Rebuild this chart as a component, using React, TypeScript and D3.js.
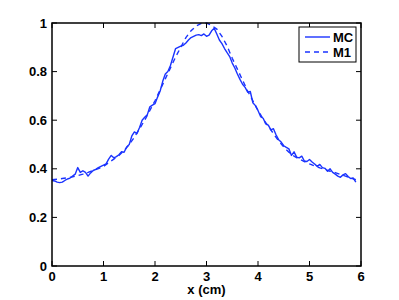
import * as d3 from 'd3';
import React from 'react';

// MC (Monte Carlo) profile, sampled every 0.05 cm
const mcX = d3.range(0, 5.901, 0.05).map((v) => +v.toFixed(2));
const mcY = [
  0.352, 0.35, 0.345, 0.343, 0.345, 0.352, 0.358, 0.362, 0.37, 0.378,
  0.405, 0.385, 0.392, 0.385, 0.37, 0.383, 0.393, 0.398, 0.405, 0.41,
  0.415, 0.42, 0.44, 0.455, 0.445, 0.45, 0.458, 0.47, 0.468, 0.49,
  0.5, 0.535, 0.552, 0.545, 0.57, 0.6, 0.612, 0.622, 0.655, 0.662,
  0.668, 0.695, 0.72, 0.76, 0.79, 0.8, 0.825, 0.86, 0.895, 0.9,
  0.905, 0.908, 0.918, 0.93, 0.94, 0.945, 0.95, 0.952, 0.948, 0.955,
  0.945, 0.95, 0.968, 0.978, 0.955, 0.93, 0.915, 0.895, 0.878, 0.862,
  0.835, 0.815, 0.79, 0.768, 0.748, 0.735, 0.715, 0.718, 0.672, 0.66,
  0.64, 0.615, 0.608, 0.585, 0.58, 0.56, 0.565, 0.54, 0.52, 0.51,
  0.495, 0.488, 0.482, 0.455, 0.47, 0.448, 0.445, 0.452, 0.432, 0.43,
  0.438, 0.428, 0.42, 0.41, 0.418, 0.405, 0.402, 0.39, 0.4, 0.385,
  0.378, 0.37, 0.365, 0.375, 0.38, 0.368, 0.36, 0.362, 0.345,
];

// M1 model, sampled every 0.1 cm
const m1X = d3.range(0, 5.901, 0.1).map((v) => +v.toFixed(1));
const m1Y = [
  0.355, 0.357, 0.36, 0.363, 0.367, 0.372, 0.378, 0.385, 0.393, 0.401,
  0.41, 0.425, 0.44, 0.455, 0.475, 0.5, 0.53, 0.565, 0.6, 0.64,
  0.68, 0.725, 0.77, 0.815, 0.86, 0.9, 0.94, 0.968, 0.988, 0.998,
  1.0, 0.99, 0.975, 0.945, 0.905, 0.855, 0.81, 0.765, 0.72, 0.68,
  0.64, 0.605, 0.575, 0.545, 0.515, 0.49, 0.468, 0.452, 0.44, 0.43,
  0.42, 0.412, 0.404, 0.397, 0.39, 0.384, 0.377, 0.37, 0.362, 0.355,
];

const xTicks = [0, 1, 2, 3, 4, 5, 6];
const yTicks = [0, 0.2, 0.4, 0.6, 0.8, 1];
const legendNames = ['MC', 'M1'];

const W = 399;
const H = 300;
const margin = { left: 52, right: 38, top: 23, bottom: 34 };
const blue = '#1a33ff';
const font = "'Liberation Sans', Arial, sans-serif";

export default function App() {
  const x = d3.scaleLinear().domain([0, 6]).range([margin.left, W - margin.right]);
  const y = d3.scaleLinear().domain([0, 1]).range([H - margin.bottom, margin.top]);
  const line = d3
    .line<[number, number]>()
    .x((d) => x(d[0]))
    .y((d) => y(d[1]));

  const mcPath = line(mcX.map((v, i) => [v, mcY[i]]) as [number, number][]) || '';
  const m1Path = line(m1X.map((v, i) => [v, m1Y[i]]) as [number, number][]) || '';

  const x0 = x(0);
  const x1 = x(6);
  const y0 = y(0);
  const y1 = y(1);
  const tick = 5;

  const lx = 299;
  const ly = 27;

  return (
    <svg
      width={W}
      height={H}
      style={{ position: 'absolute', left: 0, top: 0, background: 'white' }}
      fontFamily={font}
      fontWeight="bold"
    >
      <rect x={0} y={0} width={W} height={H} fill="white" />
      <path d={mcPath} fill="none" stroke={blue} strokeWidth={1.4} strokeLinejoin="round" />
      <path d={m1Path} fill="none" stroke={blue} strokeWidth={1.4} strokeDasharray="5,4" />

      {/* axes box */}
      <rect x={x0} y={y1} width={x1 - x0} height={y0 - y1} fill="none" stroke="black" strokeWidth={1.5} />
      {xTicks.map((t) => (
        <g key={'x' + t}>
          <line x1={x(t)} x2={x(t)} y1={y0} y2={y0 - tick} stroke="black" strokeWidth={1} />
          <line x1={x(t)} x2={x(t)} y1={y1} y2={y1 + tick} stroke="black" strokeWidth={1} />
          <text x={x(t)} y={y0 + 14.5} fontSize={13} textAnchor="middle">
            {t}
          </text>
        </g>
      ))}
      {yTicks.map((t) => (
        <g key={'y' + t}>
          <line x1={x0} x2={x0 + tick} y1={y(t)} y2={y(t)} stroke="black" strokeWidth={1} />
          <line x1={x1} x2={x1 - tick} y1={y(t)} y2={y(t)} stroke="black" strokeWidth={1} />
          <text x={x0 - 5} y={y(t) + 4.5} fontSize={13} textAnchor="end">
            {d3.format('~g')(t)}
          </text>
        </g>
      ))}
      <text x={(x0 + x1) / 2} y={H - 6} fontSize={13} textAnchor="middle">
        x (cm)
      </text>

      {/* legend */}
      <rect x={lx} y={ly} width={57} height={35} fill="white" stroke="black" strokeWidth={1} />
      {legendNames.map((name, i) => (
        <g key={name}>
          <line
            x1={lx + 6}
            x2={lx + 31}
            y1={ly + 10 + i * 15}
            y2={ly + 10 + i * 15}
            stroke={blue}
            strokeWidth={1.4}
            strokeDasharray={i === 1 ? '5,4' : undefined}
          />
          <text x={lx + 34} y={ly + 14.5 + i * 15} fontSize={13}>
            {name}
          </text>
        </g>
      ))}
    </svg>
  );
}
